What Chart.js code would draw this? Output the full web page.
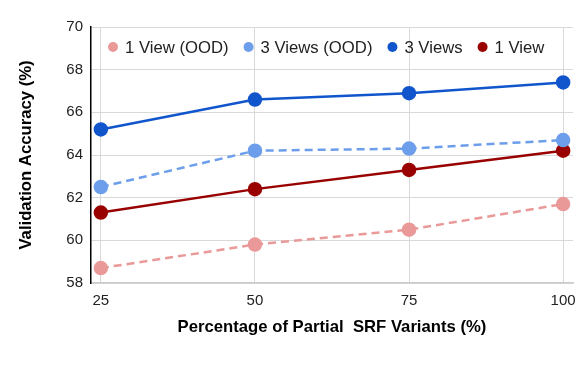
<!DOCTYPE html>
<html>
<head>
    <title>Validation Accuracy vs Partial SRF Variants</title>
    <script src="https://cdn.jsdelivr.net/npm/chart.js@4.4.0/dist/chart.umd.min.js"></script>
    <style>
        body { margin: 0; background: #fff; }
        #wrap { width: 586px; height: 368px; }
    </style>
</head>
<body>
    <div id="wrap"><canvas id="accChart" width="586" height="368"></canvas></div>
    <script>
        // data
        const percentages = [25, 50, 75, 100];
        const yTicks = [58, 60, 62, 64, 66, 68, 70];
        const oneViewOOD = [58.7, 59.8, 60.5, 61.7];
        const threeViewsOOD = [62.5, 64.2, 64.3, 64.7];
        const threeViews = [65.2, 66.6, 66.9, 67.4];
        const oneView = [61.3, 62.4, 63.3, 64.2];

        const FONT = '"Liberation Sans", Arial, sans-serif';

        function series(label, values, color, dashed) {
            return {
                label: label,
                data: values.map((v, i) => ({ x: percentages[i], y: v })),
                borderColor: color,
                backgroundColor: color,
                pointBackgroundColor: color,
                pointBorderColor: color,
                borderWidth: 2.5,
                borderDash: dashed ? [8, 5] : [],
                pointRadius: 6,
                pointHoverRadius: 6,
                tension: 0
            };
        }

        // legend drawn inside the plot area, like the original
        const insideLegend = {
            id: 'insideLegend',
            afterDraw(chart) {
                const ctx = chart.ctx;
                const area = chart.chartArea;
                ctx.save();
                ctx.font = '16.7px ' + FONT;
                ctx.textBaseline = 'middle';
                let x = area.left + 22;
                const y = area.top + 20;
                chart.data.datasets.forEach(ds => {
                    ctx.fillStyle = ds.borderColor;
                    ctx.beginPath();
                    ctx.arc(x, y, 5, 0, Math.PI * 2);
                    ctx.fill();
                    ctx.fillStyle = '#222';
                    ctx.fillText(ds.label, x + 12, y + 1);
                    x += 12 + ctx.measureText(ds.label).width + 20;
                });
                ctx.restore();
            }
        };

        new Chart(document.getElementById('accChart'), {
            type: 'line',
            data: {
                datasets: [
                    series('1 View (OOD)', oneViewOOD, '#ea9999', true),
                    series('3 Views (OOD)', threeViewsOOD, '#6d9eeb', true),
                    series('3 Views', threeViews, '#1155cc', false),
                    series('1 View', oneView, '#990000', false)
                ]
            },
            options: {
                responsive: false,
                animation: false,
                layout: { padding: { top: 27, right: 13, left: 0, bottom: 0 } },
                plugins: {
                    legend: { display: false },
                    tooltip: { enabled: false }
                },
                scales: {
                    x: {
                        type: 'linear',
                        min: 23.4,
                        max: 101.6,
                        afterBuildTicks: scale => {
                            scale.ticks = percentages.map(v => ({ value: v }));
                        },
                        afterFit: scale => { scale.height = 85; },
                        grid: { color: '#d9d9d9', drawTicks: false },
                        border: { color: '#cccccc', width: 1.5 },
                        ticks: {
                            padding: 9,
                            color: '#222',
                            font: { family: FONT, size: 15 }
                        },
                        title: {
                            display: true,
                            text: 'Percentage of Partial  SRF Variants (%)',
                            color: '#000',
                            font: { family: FONT, size: 16.7, weight: 'bold' },
                            padding: { top: 31, bottom: 31 }
                        }
                    },
                    y: {
                        min: 58,
                        max: 70,
                        afterBuildTicks: scale => {
                            scale.ticks = yTicks.map(v => ({ value: v }));
                        },
                        afterFit: scale => { scale.width = 91; },
                        grid: { color: '#d9d9d9', drawTicks: false },
                        border: { color: '#000', width: 1.5 },
                        ticks: {
                            padding: 8,
                            color: '#222',
                            font: { family: FONT, size: 15 }
                        },
                        title: {
                            display: true,
                            text: 'Validation Accuracy (%)',
                            color: '#000',
                            font: { family: FONT, size: 16.7, weight: 'bold' },
                            padding: { top: 16, bottom: 16 }
                        }
                    }
                }
            },
            plugins: [insideLegend]
        });
    </script>
</body>
</html>
